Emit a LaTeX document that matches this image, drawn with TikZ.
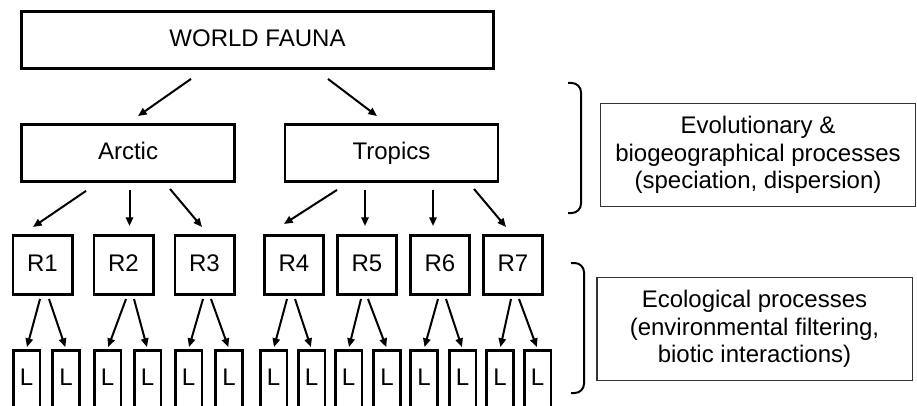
\documentclass[tikz,border=0pt]{standalone}
\usepackage{fontspec}
\setmainfont{Liberation Sans}
\usetikzlibrary{arrows.meta,calc}
\definecolor{sidegray}{HTML}{333333}

\begin{document}
\begin{tikzpicture}[x=0.75pt,y=-0.75pt,
 box/.style={draw,line width=1.9pt,inner sep=0pt,text height=13pt,text depth=3.5pt,
   font=\fontsize{18}{20.5}\selectfont},
 rbox/.style={box,minimum width=44.6pt,minimum height=44.6pt},
 lbox/.style={box,minimum width=19.9pt,minimum height=43.9pt},
 side/.style={draw=sidegray,line width=1pt,align=center,inner sep=0pt,
   minimum width=236.5pt,minimum height=77.5pt,font=\fontsize{18}{20.5}\selectfont},
 arr/.style={-{Triangle[length=6.5pt,width=5.5pt]},line width=1.5pt},
 brace/.style={line width=1.5pt,rounded corners=7pt}]
\useasboundingbox (0,0) rectangle (917,406);
\clip (0,0) rectangle (917,406);
\node[box,minimum width=354pt,minimum height=43pt] (wf) at (257.5,40) {WORLD FAUNA};
\node[box,minimum width=160pt,minimum height=43pt] (arc) at (128,153) {Arctic};
\node[box,minimum width=160pt,minimum height=43pt] (tro) at (391.5,153) {Tropics};
\foreach \n/\x in {1/42.5,2/123.5,3/204.5,4/294,5/367,6/440,7/513}
  \node[rbox] (r\n) at (\x,265) {R\n};
\foreach \n/\xa/\xb in {1/26.5/66,2/107.5/147.5,3/188.5/229,4/273.5/311.5,
    5/348.5/387,6/424/462.5,7/500/537.5}{
  \node[lbox] (l\n-a) at (\xa,379.5) {L};
  \node[lbox] (l\n-b) at (\xb,379.5) {L};
}
% side notes
\node[side] (evo) at (758,155) {Evolutionary \&\\biogeographical processes\\(speciation, dispersion)};
\node[side] (eco) at (754.5,329) {Ecological processes\\(environmental filtering,\\biotic interactions)};
\draw[brace] (568,83) -- (581,83) -- (581,213) -- (568,213);
\draw[brace] (571,263) -- (584,263) -- (584,393) -- (571,393);
% arrows
\draw[arr] ($(wf.south)+(-66.5,9)$) -- ($(arc.north)+(10,-7)$);
\draw[arr] ($(wf.south)+(70.5,9)$) -- ($(tro.north)+(-14.5,-7)$);
\draw[arr] ($(arc.south)+(-42,8)$) -- ($(r1.north)+(-9.5,-7)$);
\draw[arr] ($(arc.south)+(1.5,7)$) -- ($(r2.north)+(6,-8)$);
\draw[arr] ($(arc.south)+(42,6)$) -- ($(r3.north)+(-2.5,-7)$);
\draw[arr] ($(tro.south)+(-54.5,7)$) -- ($(r4.north)+(-10,-10)$);
\draw[arr] ($(tro.south)+(-26.5,7)$) -- ($(r5.north)+(-2,-8)$);
\draw[arr] ($(tro.south)+(41.5,7)$) -- ($(r6.north)+(-7,-8)$);
\draw[arr] ($(tro.south)+(82.5,6)$) -- ($(r7.north)+(-7,-7)$);
\foreach \n/\da/\db in {1/-2.5/6.5,2/2.5/10.5,3/-1.5/6.5,4/-7/1,5/-6/1,6/-2/6,7/-2/6}{
  \draw[arr,shorten >=1.5pt] ($(r\n.south)+(\da,3)$) -- (l\n-a.north);
  \draw[arr,shorten >=1.5pt] ($(r\n.south)+(\db,3)$) -- (l\n-b.north);
}
\end{tikzpicture}
\end{document}
